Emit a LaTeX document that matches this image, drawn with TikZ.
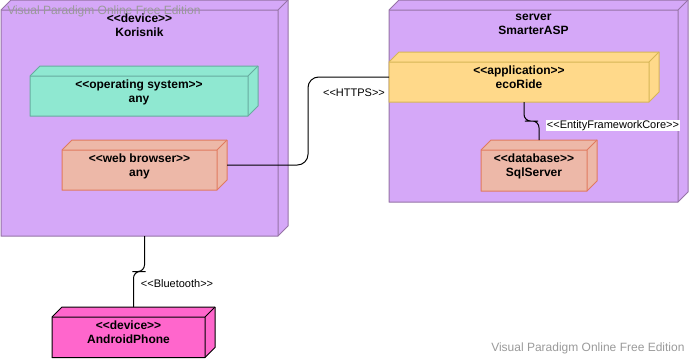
\documentclass[tikz,border=0pt]{standalone}
\usepackage{fontspec}
\setmainfont{Liberation Sans}
\usetikzlibrary{calc}
\definecolor{nodePurple}{HTML}{D5A8F8}
\definecolor{nodePurpleLine}{HTML}{9673A6}
\definecolor{osGreen}{HTML}{8FE8D1}
\definecolor{osGreenLine}{HTML}{67AB9F}
\definecolor{salmon}{HTML}{EDB8A8}
\definecolor{salmonLine}{HTML}{E07A5F}
\definecolor{appYellow}{HTML}{FFD98A}
\definecolor{appYellowLine}{HTML}{D6B656}
\definecolor{phonePink}{HTML}{FF66CC}
\definecolor{wmGray}{HTML}{9A9A9A}
% keep << and >> from turning into guillemets
\newcommand\stereo[1]{<\kern0pt<#1>\kern0pt>}

\begin{document}
\begin{tikzpicture}[x=0.75pt,y=-0.75pt,
  cube/.style={inner sep=0pt,outer sep=0pt},
  cubetext/.style={anchor=north,align=center,inner sep=0pt,font=\bfseries\fontsize{9}{10.5}\selectfont},
  link/.style={line width=0.75pt},
  linklabel/.style={font=\fontsize{8.25}{10}\selectfont,inner sep=0.5pt},
  watermark/.style={text=wmGray,font=\fontsize{9}{11}\selectfont,inner sep=0pt,anchor=west}]
\useasboundingbox (0,0) rectangle (689,358);
\def\cubes{
kor/1/0/288/236/nodePurple/nodePurpleLine/{\stereo{device}\\Korisnik},
os/30/66/258/116/osGreen/osGreenLine/{\stereo{operating system}\\any},
web/62/140/227/190/salmon/salmonLine/{\stereo{web browser}\\any},
srv/389/0/688/202/nodePurple/nodePurpleLine/{server\\SmarterASP},
eco/389/52/659/102/appYellow/appYellowLine/{\stereo{application}\\ecoRide},
db/481/140/597/191/salmon/salmonLine/{\stereo{database}\\SqlServer},
phone/52/307/215/357.5/phonePink/black/{\stereo{device}\\AndroidPhone}}
\foreach \n/\xa/\ya/\xb/\yb/\fc/\dc/\txt in \cubes {
  \node[cube,minimum width={(\xb-\xa)*0.75pt},minimum height={(\yb-\ya)*0.75pt}]
    (\n) at ({(\xa+\xb)/2},{(\ya+\yb)/2}) {};
  \filldraw[fill=\fc,draw=\dc,line width=0.75pt,line join=round]
    ($(\n.north west)+(0,10)$) -- ++(10,-10) -- (\n.north east)
    -- ($(\n.south east)+(0,-10)$) -- ++(-10,10) -- (\n.south west) -- cycle;
  \draw[draw=\dc,line width=0.75pt,line join=round]
    ($(\n.north west)+(0,10)$) -- ($(\n.north east)+(-10,10)$) -- (\n.north east)
    ($(\n.north east)+(-10,10)$) -- ($(\n.south east)+(-10,0)$);
  \node[cubetext] (\n-label) at ($(\n.north)+(-5,14)$) {\txt};
}
\coordinate (bend) at (308,0);
\draw[link,rounded corners=8] (web.east) -| (bend |- eco.west) -- (eco.west);
\node[linklabel] (https) at (354,93) {\stereo{HTTPS}};
\draw[link,rounded corners=5] (eco.south) |- ($(eco.south)!0.5!(db.north)$) -| (db.north);
\node[linklabel,fill=white,anchor=west] (ef) at (546,125.5) {\stereo{EntityFrameworkCore}};
\draw[link,rounded corners=5] (kor.south) |- ($(kor.south)!0.5!(phone.north)$) -| (phone.north);
\node[linklabel,anchor=west] (bt) at (140,284) {\stereo{Bluetooth}};
\node[watermark] (wm1) at (7,11) {Visual Paradigm Online Free Edition};
\node[watermark] (wm2) at (491,348) {Visual Paradigm Online Free Edition};
\end{tikzpicture}
\end{document}
